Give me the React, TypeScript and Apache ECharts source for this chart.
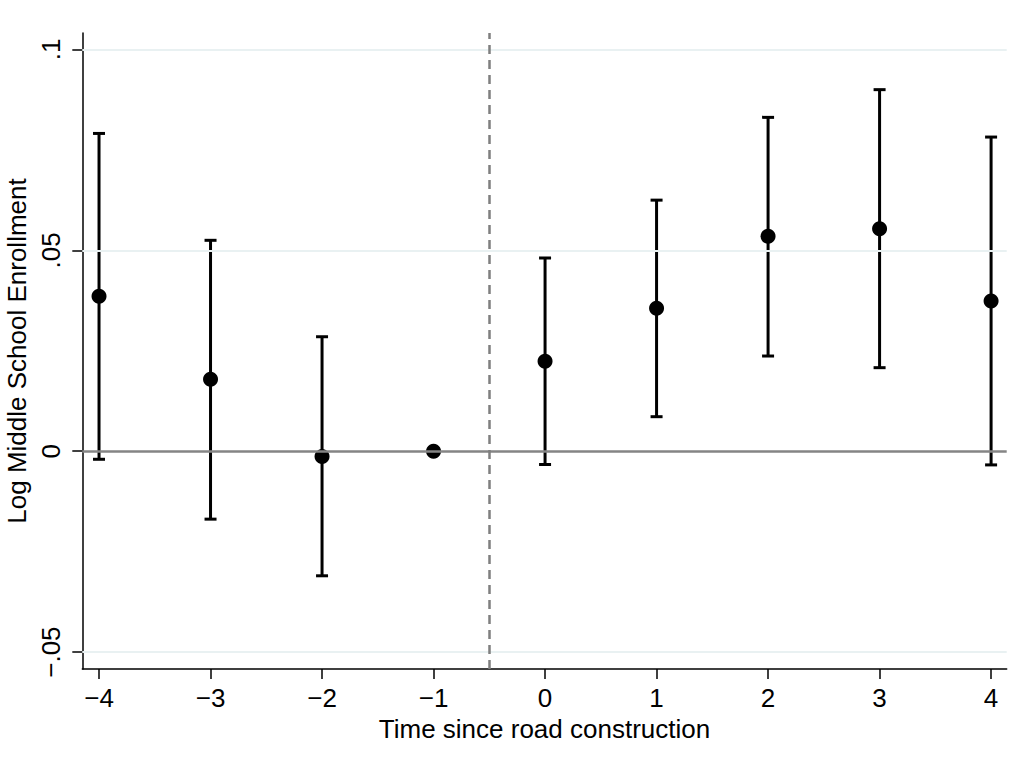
import React, { useEffect, useRef } from 'react';
import * as echarts from 'echarts';

// ---- data ----
const periods = [-4, -3, -2, -1, 0, 1, 2, 3, 4];
const coef = [0.0386, 0.0179, -0.0013, 0, 0.0224, 0.0356, 0.0535, 0.0554, 0.0374];
const ciUpper: (number | null)[] = [0.0791, 0.0525, 0.0285, null, 0.0481, 0.0625, 0.0831, 0.09, 0.0782];
const ciLower: (number | null)[] = [-0.002, -0.0169, -0.031, null, -0.0033, 0.0086, 0.0237, 0.0208, -0.0034];

const xTickValues = [-4, -3, -2, -1, 0, 1, 2, 3, 4];
const xTickLabels = ['−4', '−3', '−2', '−1', '0', '1', '2', '3', '4'];
const yTickValues = [-0.05, 0, 0.05, 0.1];
const yTickLabels = ['−.05', '0', '.05', '.1'];
const gridLineValues = [-0.05, 0.05, 0.1];
const zeroLineValue = 0;
const eventLineValue = -0.5;

const xTitle = 'Time since road construction';
const yTitle = 'Log Middle School Enrollment';

const FONT = '"Liberation Sans", Arial, Helvetica, sans-serif';

function lookup(values: number[], labels: string[], v: number) {
  for (let i = 0; i < values.length; i++) {
    if (Math.abs(values[i] - v) < 1e-9) return labels[i];
  }
  return '';
}

export default function App() {
  const ref = useRef<HTMLDivElement>(null);

  useEffect(() => {
    if (!ref.current) return;
    const chart = echarts.init(ref.current, undefined, { renderer: 'svg' });

    const errData = periods
      .map((p, i) => (ciUpper[i] == null || ciLower[i] == null ? null : [p, ciLower[i], ciUpper[i]]))
      .filter((d) => d !== null);

    const markData: any[] = [
      ...gridLineValues.map((v) => ({ yAxis: v, lineStyle: { color: '#e9f1f2', width: 2, type: 'solid' } })),
      { yAxis: zeroLineValue, lineStyle: { color: '#858585', width: 2.5, type: 'solid' } },
      { xAxis: eventLineValue, lineStyle: { color: '#7f7f7f', width: 2.5, type: [9, 6] } },
    ];

    const option: any = {
      animation: false,
      backgroundColor: '#ffffff',
      grid: {
        left: 82.3,
        right: 19.3,
        top: 33,
        bottom: 105,
        containLabel: false,
        outerBoundsMode: 'none',
      },
      xAxis: {
        type: 'value',
        min: -4.15,
        max: 4.14,
        splitLine: { show: false },
        axisLine: { show: true, onZero: false, lineStyle: { color: '#000', width: 1.5 } },
        axisTick: { show: true, customValues: xTickValues, length: 10, lineStyle: { color: '#000', width: 1.5 } },
        axisLabel: {
          customValues: xTickValues,
          formatter: (v: number) => lookup(xTickValues, xTickLabels, v),
          color: '#000',
          fontSize: 26,
          fontFamily: FONT,
          margin: 16,
        },
        name: xTitle,
        nameLocation: 'middle',
        nameGap: 41,
        nameTextStyle: { color: '#000', fontSize: 26, fontFamily: FONT },
      },
      yAxis: {
        type: 'value',
        min: -0.0542,
        max: 0.1041,
        splitLine: { show: false },
        axisLine: { show: true, onZero: false, lineStyle: { color: '#000', width: 1.5 } },
        axisTick: { show: true, customValues: yTickValues, length: 10, lineStyle: { color: '#000', width: 1.5 } },
        axisLabel: {
          customValues: yTickValues,
          formatter: (v: number) => lookup(yTickValues, yTickLabels, v),
          rotate: 90,
          color: '#000',
          fontSize: 26,
          fontFamily: FONT,
          margin: 18,
        },
        name: yTitle,
        nameLocation: 'middle',
        nameRotate: 90,
        nameGap: 48,
        nameTextStyle: { color: '#000', fontSize: 26, fontFamily: FONT },
      },
      series: [
        {
          type: 'line',
          data: [],
          z: 1,
          silent: true,
          markLine: {
            silent: true,
            symbol: 'none',
            label: { show: false },
            animation: false,
            data: markData,
          },
        },
        {
          type: 'custom',
          z: 3,
          silent: true,
          data: errData,
          encode: { x: 0, y: [1, 2] },
          renderItem: (params: any, api: any) => {
            const x = api.value(0);
            const lo = api.coord([x, api.value(1)]);
            const hi = api.coord([x, api.value(2)]);
            const cap = 6;
            const style = { stroke: '#000', lineWidth: 3, fill: 'none' };
            return {
              type: 'group',
              children: [
                { type: 'line', shape: { x1: lo[0], y1: lo[1], x2: hi[0], y2: hi[1] }, style },
                { type: 'line', shape: { x1: hi[0] - cap, y1: hi[1], x2: hi[0] + cap, y2: hi[1] }, style },
                { type: 'line', shape: { x1: lo[0] - cap, y1: lo[1], x2: lo[0] + cap, y2: lo[1] }, style },
              ],
            };
          },
        },
        {
          type: 'scatter',
          z: 4,
          symbol: 'circle',
          symbolSize: 15,
          itemStyle: { color: '#000', opacity: 1 },
          data: periods.map((p, i) => [p, coef[i]]),
        },
      ],
    };

    chart.setOption(option);
    return () => chart.dispose();
  }, []);

  return (
    <div
      ref={ref}
      style={{ position: 'fixed', left: 0, top: 0, width: '1026px', height: '774px', background: '#fff' }}
    />
  );
}
